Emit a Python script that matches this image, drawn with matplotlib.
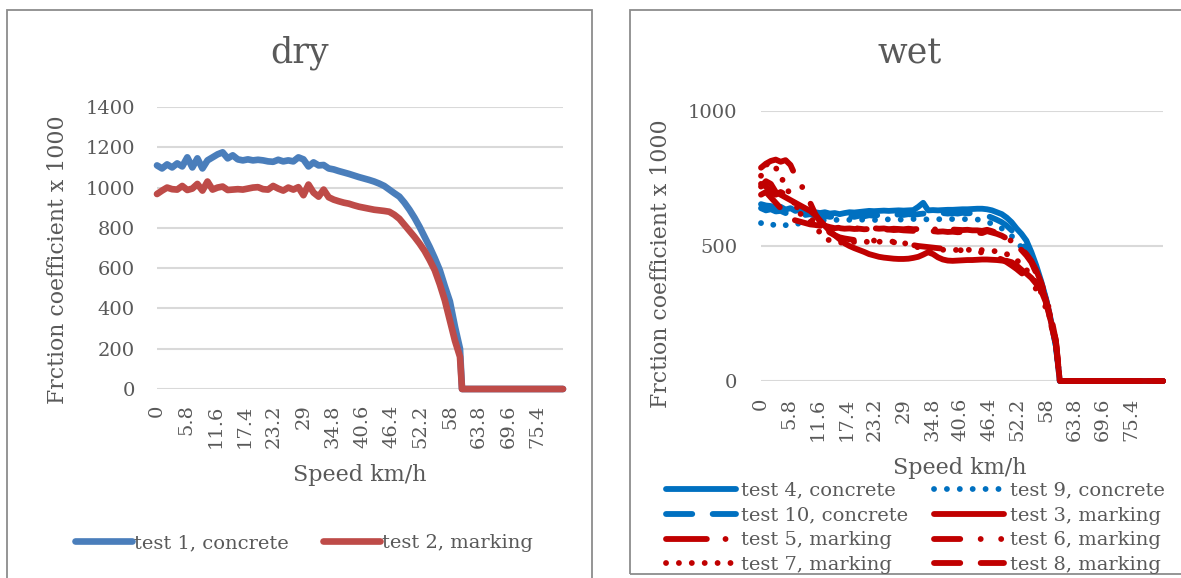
import numpy as np
import matplotlib
matplotlib.use('Agg')
import matplotlib.pyplot as plt
from matplotlib.patches import Rectangle

# speed grid (km/h), 1 km/h steps up to the stop, then zero until the end
speed = np.arange(0, 61)
dry_drop, dry_end = 60.4, 80.4
wet_drop, wet_end = 60.8, 81.8

# ---- dry ----
test1_concrete = [1110, 1095, 1115, 1100, 1120, 1105, 1150, 1100, 1145, 1095,
                  1135, 1150, 1165, 1175, 1145, 1160, 1140, 1135, 1140, 1135,
                  1138, 1135, 1130, 1128, 1138, 1130, 1135, 1130, 1150, 1140,
                  1105, 1125, 1110, 1112, 1095, 1090, 1082, 1075, 1068, 1060,
                  1052, 1045, 1038, 1030, 1020, 1008, 990, 972, 955, 925,
                  890, 850, 805, 755, 705, 650, 590, 510, 435, 310, 200]
test2_marking = [968, 985, 1000, 992, 990, 1008, 988, 995, 1018, 985,
                 1030, 990, 1000, 1005, 988, 990, 992, 990, 995, 1000,
                 1002, 992, 990, 1008, 995, 985, 1000, 990, 1002, 962,
                 1015, 975, 955, 990, 952, 940, 932, 925, 920, 912,
                 905, 900, 895, 890, 887, 884, 880, 865, 845, 815,
                 785, 755, 722, 685, 640, 590, 520, 440, 340, 240, 160]

# ---- wet ----
test4_concrete = [655, 650, 648, 640, 645, 635, 640, 630, 635, 628,
                  632, 625, 622, 625, 620, 622, 618, 622, 625, 624,
                  626, 628, 630, 629, 630, 631, 630, 631, 632, 631,
                  632, 633, 645, 660, 632, 633, 632, 633, 634, 634,
                  635, 636, 636, 637, 638, 638, 636, 632, 625, 618,
                  605, 588, 565, 545, 520, 478, 428, 370, 305, 225, 130]
test9_concrete = [585, 578, 582, 575, 580, 577, 583, 580, 585, 588,
                  590, 592, 595, 596, 594, 596, 598, 595, 597, 596,
                  598, 597, 598, 596, 598, 597, 599, 598, 597, 599,
                  598, 600, 599, 600, 598, 600, 599, 600, 598, 600,
                  599, 600, 599, 598, 598, 596, 590, 582, 575, 565,
                  552, 537, 518, 495, 470, 440, 405, 360, 300, 220, 140]
test10_concrete = [640, 632, 636, 628, 630, 622, 626, 618, 620, 615,
                   618, 612, 610, 612, 608, 610, 606, 608, 610, 608,
                   612, 610, 614, 612, 615, 613, 616, 614, 617, 615,
                   618, 616, 618, 620, 618, 620, 618, 622, 620, 622,
                   620, 623, 621, 622, 620, 618, 612, 605, 597, 588,
                   575, 558, 540, 515, 488, 455, 415, 365, 300, 220, 130]
test3_marking = [720, 740, 730, 700, 690, 680, 670, 660, 650, 640,
                 630, 615, 595, 575, 555, 540, 525, 510, 500, 492,
                 485, 478, 470, 465, 460, 457, 455, 453, 452, 452,
                 453, 456, 460, 468, 477, 470, 458, 450, 446, 445,
                 446, 447, 448, 448, 449, 450, 450, 449, 448, 446,
                 445, 440, 428, 412, 398, 382, 360, 335, 290, 220, 140]
test5_marking = [790, 805, 815, 820, 812, 818, 800, 760, 730, 700,
                 660, 620, 590, 575, 570, 566, 568, 565, 567, 564,
                 566, 565, 563, 566, 564, 565, 562, 564, 563, 562,
                 564, 562, 563, 561, 563, 562, 561, 562, 560, 561,
                 560, 559, 560, 558, 558, 556, 560, 555, 548, 540,
                 530, 518, 505, 490, 470, 445, 410, 365, 310, 240, 150]
test6_marking = [730, 720, 700, 690, 700, 690, 670, 650, 630, 610,
                 600, 590, 580, 565, 550, 540, 532, 528, 525, 522,
                 520, 522, 518, 520, 515, 517, 512, 514, 510, 508,
                 505, 503, 500, 498, 496, 494, 492, 490, 488, 486,
                 485, 484, 482, 480, 478, 476, 472, 466, 458, 450,
                 440, 428, 415, 400, 385, 365, 340, 310, 270, 210, 140]
test7_marking = [760, 800, 810, 790, 760, 720, 690, 650, 620, 600,
                 590, 570, 550, 530, 520, 515, 512, 514, 516, 515,
                 517, 515, 516, 514, 516, 515, 517, 516, 514, 512,
                 505, 500, 495, 492, 490, 488, 487, 486, 485, 486,
                 485, 484, 486, 485, 484, 485, 484, 482, 480, 476,
                 470, 460, 448, 432, 412, 390, 362, 328, 285, 220, 140]
test8_marking = [690, 700, 680, 660, 640, 620, 600, 595, 590, 585,
                 580, 578, 575, 570, 568, 565, 566, 564, 565, 563,
                 564, 562, 563, 561, 562, 560, 561, 559, 560, 558,
                 557, 556, 555, 556, 554, 555, 553, 554, 552, 553,
                 551, 552, 550, 550, 549, 548, 555, 550, 545, 538,
                 528, 515, 500, 485, 465, 440, 400, 355, 300, 230, 150]

dry_labels = ['test 1, concrete', 'test 2, marking']
wet_labels = ['test 4, concrete', 'test 9, concrete', 'test 10, concrete',
              'test 3, marking', 'test 5, marking', 'test 6, marking',
              'test 7, marking', 'test 8, marking']
tick_pos = [0, 5.8, 11.6, 17.4, 23.2, 29, 34.8, 40.6, 46.4, 52.2, 58, 63.8, 69.6, 75.4]
tick_lab = ['0', '5.8', '11.6', '17.4', '23.2', '29', '34.8', '40.6', '46.4',
            '52.2', '58', '63.8', '69.6', '75.4']

plt.rcParams['font.family'] = ['DejaVu Serif']
txt = '#595959'
W, H = 1181, 578


def full(vals, drop, end):
    x = np.r_[speed, drop, end]
    y = np.r_[vals, 0, 0]
    return x, y


def style_axes(ax, xmax, ymax, yticks, xpad, ypad):
    ax.set_xlim(0, xmax)
    ax.set_ylim(0, ymax)
    for s in ax.spines.values():
        s.set_visible(False)
    ax.set_yticks(yticks)
    ax.set_xticks(tick_pos)
    ax.set_xticklabels(tick_lab, rotation=90)
    ax.tick_params(axis='x', length=0, pad=xpad, labelsize=14, labelcolor=txt)
    ax.tick_params(axis='y', length=0, pad=ypad, labelsize=14, labelcolor=txt)
    ax.grid(axis='y', color='#D9D9D9', lw=1.5)
    ax.set_axisbelow(True)


fig = plt.figure(figsize=(W / 100, H / 100), dpi=100)

# panel frames
fig.add_artist(Rectangle((7 / W, -0.05), (592 - 7) / W, 1 - 10 / H + 0.05,
                         transform=fig.transFigure, fill=False, ec='#8c8c8c', lw=1.3))
fig.add_artist(Rectangle((630 / W, 1 - 574 / H), 0.5, (574 - 10) / H,
                         transform=fig.transFigure, fill=False, ec='#8c8c8c', lw=1.3))

# ---- dry panel ----
ax1 = fig.add_axes([157 / W, 1 - 389 / H, (563 - 157) / W, (389 - 107) / H])
style_axes(ax1, dry_end, 1400, range(0, 1401, 200), 11, 16)
for vals, c, lab in zip([test1_concrete, test2_marking], ['#4A7EBB', '#BE4B48'], dry_labels):
    x, y = full(vals, dry_drop, dry_end)
    ax1.plot(x, y, color=c, lw=4.8, label=lab, solid_capstyle='round',
             solid_joinstyle='round', clip_on=False)

fig.text(300 / W, 1 - 53 / H, 'dry', ha='center', va='center', fontsize=25, color=txt)
fig.text(58 / W, 1 - 260 / H, 'Frction coefficient x 1000', rotation=90,
         ha='center', va='center', fontsize=15.8, color=txt)
fig.text(360 / W, 1 - 475 / H, 'Speed km/h', ha='center', va='center', fontsize=16, color=txt)
fig.legend(*ax1.get_legend_handles_labels(), loc='center', bbox_to_anchor=(304 / W, 1 - 543 / H),
           ncol=2, frameon=False, fontsize=14, handlelength=2.9, handletextpad=0.1,
           columnspacing=1.8, labelcolor=txt)

# ---- wet panel ----
ax2 = fig.add_axes([761 / W, 1 - 381 / H, (1163 - 761) / W, (381 - 111) / H])
style_axes(ax2, wet_end, 1000, [0, 500, 1000], 12, 17)

blue, red = '#0070C0', '#C00000'
wet_series = [test4_concrete, test9_concrete, test10_concrete, test3_marking,
              test5_marking, test6_marking, test7_marking, test8_marking]
wet_colors = [blue, blue, blue, red, red, red, red, red]
wet_styles = ['-', (0, (0.01, 2.2)), (0, (4.5, 3.5)), '-',
              (0, (7, 3.2, 0.01, 3.2)), (0, (4.5, 3.5, 0.01, 3.5, 0.01, 3.5)),
              (0, (0.01, 2.2)), (0, (4.5, 3.5))]
for vals, c, ls, lab in zip(wet_series, wet_colors, wet_styles, wet_labels):
    x, y = full(vals, wet_drop, wet_end)
    ax2.plot(x, y, color=c, lw=4.2, ls=ls, label=lab, dash_capstyle='round',
             solid_capstyle='round', solid_joinstyle='round', clip_on=False)

fig.text(910 / W, 1 - 53 / H, 'wet', ha='center', va='center', fontsize=25, color=txt)
fig.text(661 / W, 1 - 264 / H, 'Frction coefficient x 1000', rotation=90,
         ha='center', va='center', fontsize=15.8, color=txt)
fig.text(960 / W, 1 - 468 / H, 'Speed km/h', ha='center', va='center', fontsize=16, color=txt)

# legend is filled row by row in the reference, matplotlib fills by column
h, l = ax2.get_legend_handles_labels()
order = [0, 2, 4, 6, 1, 3, 5, 7]
fig.legend([h[i] for i in order], [l[i] for i in order], loc='center',
           bbox_to_anchor=(915 / W, 1 - 528 / H), ncol=2, frameon=False, fontsize=14,
           handlelength=3.6, handletextpad=0.3, columnspacing=1.3, labelspacing=0.35,
           labelcolor=txt)

fig.savefig('out.png', dpi=100)
